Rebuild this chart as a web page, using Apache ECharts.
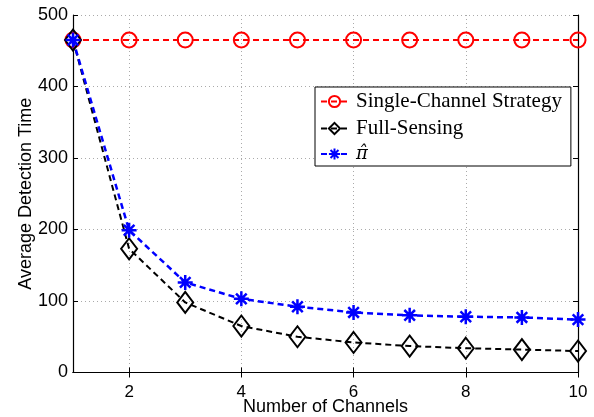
<!DOCTYPE html>
<html><head><meta charset="utf-8">
<script src="https://cdn.jsdelivr.net/npm/echarts@6/dist/echarts.min.js"></script>
<style>html,body{margin:0;padding:0;background:#fff}#c{width:594px;height:417px}</style>
</head><body><div id="c"></div>
<script>
const channels = [1,2,3,4,5,6,7,8,9,10];
const singleChannel = [465,465,465,465,465,465,465,465,465,465];
const fullSensing = [465,173,98,65,50,42,37,34,32,30];
const piHat = [465,199,126,103,92,84,80,78,77,74];
const xTicks = [2,4,6,8,10];
const yTicks = [0,100,200,300,400,500];
const seriesNames = ['Single-Channel Strategy','Full-Sensing','\u03C0\u0302'];

const star = 'path://M0,-10L0,10M-10,0L10,0M-7.07,-7.07L7.07,7.07M-7.07,7.07L7.07,-7.07';
const pairs = a => channels.map((x,i)=>[x,a[i]]);
const sans = 'Liberation Sans';
const chart = echarts.init(document.getElementById('c'));
const tickStyle = {show:true, inside:true, length:5, lineStyle:{color:'#000',width:1}};
chart.setOption({
  animation:false,
  grid:{left:73,right:16,top:15,bottom:44.5,containLabel:false,outerBoundsMode:'none'},
  legend:{
    left:315, top:87, orient:'vertical',
    backgroundColor:'#fff', borderColor:'#000', borderWidth:1, borderRadius:0,
    padding:[4,9,3,5], itemGap:6, itemWidth:27, itemHeight:14,
    textStyle:{fontFamily:'Liberation Serif', fontSize:21, color:'#000', padding:[0,0,0,3]},
    data:[
      {name:seriesNames[0]},
      {name:seriesNames[1]},
      {name:seriesNames[2], textStyle:{fontFamily:'DejaVu Serif', fontStyle:'italic', fontSize:18}}
    ]
  },
  xAxis:[{
    type:'value', min:1, max:10,
    name:'Number of Channels', nameLocation:'middle', nameGap:26, nameMoveOverlap:false,
    nameTextStyle:{fontFamily:sans,fontSize:18,color:'#000'},
    axisLine:{show:true,lineStyle:{color:'#000',width:1.2}},
    axisTick:Object.assign({customValues:xTicks},tickStyle),
    axisLabel:{customValues:xTicks,fontFamily:sans,fontSize:17,color:'#000',margin:11},
    splitLine:{show:true,lineStyle:{color:'#aaa',type:[1,3],width:1}}
  },{
    type:'value', min:1, max:10, position:'top',
    axisLine:{show:true,lineStyle:{color:'#000',width:1.2}},
    axisTick:Object.assign({customValues:xTicks},tickStyle),
    axisLabel:{show:false,customValues:xTicks},
    splitLine:{show:false}
  }],
  yAxis:[{
    type:'value', min:0, max:500, interval:100,
    name:'Average Detection Time', nameLocation:'middle', nameGap:38, nameMoveOverlap:false,
    nameTextStyle:{fontFamily:sans,fontSize:18,color:'#000'},
    axisLine:{show:true,lineStyle:{color:'#000',width:1.2}},
    axisTick:tickStyle,
    axisLabel:{fontFamily:sans,fontSize:18,color:'#000',margin:5},
    splitLine:{show:true,lineStyle:{color:'#aaa',type:[1,3],width:1}}
  },{
    type:'value', min:0, max:500, interval:100, position:'right',
    axisLine:{show:true,lineStyle:{color:'#000',width:1.2}},
    axisTick:tickStyle, axisLabel:{show:false}, splitLine:{show:false}
  }],
  series:[
    {name:seriesNames[0], type:'line', data:pairs(singleChannel),
     symbol:'circle', symbolSize:15,
     lineStyle:{color:'#ff0000',width:2,type:[6,4]},
     itemStyle:{color:'rgba(0,0,0,0)',borderColor:'#ff0000',borderWidth:2}},
    {name:seriesNames[1], type:'line', data:pairs(fullSensing),
     symbol:'diamond', symbolSize:[16,21],
     lineStyle:{color:'#000',width:2,type:[6,4]},
     itemStyle:{color:'rgba(0,0,0,0)',borderColor:'#000',borderWidth:2}},
    {name:seriesNames[2], type:'line', data:pairs(piHat),
     symbol:star, symbolSize:15,
     lineStyle:{color:'#0000ff',width:2.5,type:[6,4]},
     itemStyle:{color:'rgba(0,0,0,0)',borderColor:'#0000ff',borderWidth:2.5}}
  ]
});
</script></body></html>
